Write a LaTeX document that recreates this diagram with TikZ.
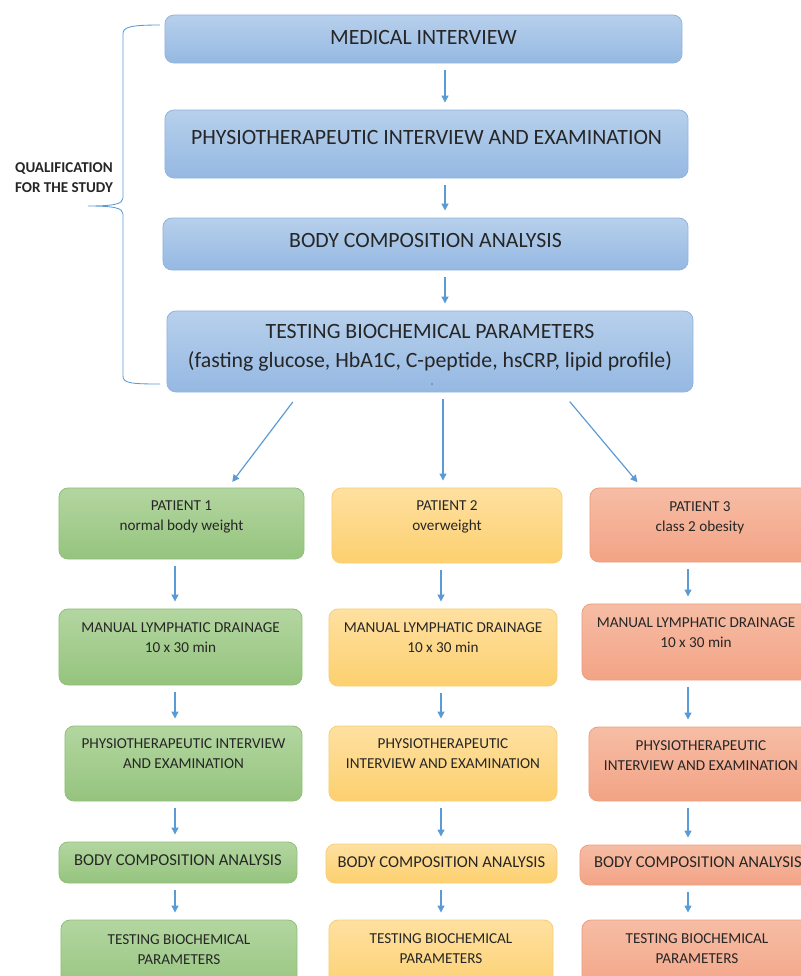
\documentclass[tikz,border=0pt]{standalone}
\usepackage{fontspec}
\setmainfont{Carlito}
\usetikzlibrary{arrows.meta,positioning}
\definecolor{txtc}{HTML}{262626}
\definecolor{arrc}{HTML}{5B9BD5}
\definecolor{bluetop}{HTML}{B7D0EC}
\definecolor{bluebot}{HTML}{95B8E2}
\definecolor{bluebd}{HTML}{93B4DE}
\definecolor{greentop}{HTML}{B3D6A0}
\definecolor{greenbot}{HTML}{95C47E}
\definecolor{greenbd}{HTML}{92BF7E}
\definecolor{yellowtop}{HTML}{FEE0A0}
\definecolor{yellowbot}{HTML}{FDD06F}
\definecolor{yellowbd}{HTML}{F8CF78}
\definecolor{redtop}{HTML}{F6BDA5}
\definecolor{redbot}{HTML}{F3A385}
\definecolor{redbd}{HTML}{EE9F80}
\begin{document}
\begin{tikzpicture}[x=0.025cm, y=-0.025cm,
  box/.style={draw, line width=0.6pt, rounded corners=6.5pt, inner sep=0pt},
  bluebox/.style={box, draw=bluebd, top color=bluetop, bottom color=bluebot},
  greenbox/.style={box, draw=greenbd, top color=greentop, bottom color=greenbot},
  yellowbox/.style={box, draw=yellowbd, top color=yellowtop, bottom color=yellowbot},
  redbox/.style={box, draw=redbd, top color=redtop, bottom color=redbot},
  bigtxt/.style={align=center, text=txtc, font=\fontsize{15.5}{20.8}\selectfont},
  smalltxt/.style={align=center, text=txtc, font=\fontsize{10.8}{14.2}\selectfont},
  bodytxt/.style={smalltxt, font=\fontsize{11.8}{14.2}\selectfont},
  flow/.style={-{Triangle[width=5pt,length=5pt]}, draw=arrc, line width=0.85pt, shorten <=4.5pt, shorten >=5pt}]
  \useasboundingbox (0,0) rectangle (801,976);
  \clip (0,0) rectangle (801,976);

  \node[bluebox, minimum width=12.925cm, minimum height=1.2cm, label={[bigtxt,yshift=1pt]center:MEDICAL INTERVIEW}] (b1) at (423.5,39) {};
  \node[bluebox, minimum width=13.075cm, minimum height=1.7cm, label={[bigtxt,yshift=4.3pt]center:PHYSIOTHERAPEUTIC INTERVIEW AND EXAMINATION}] (b2) at (426.5,144) {};
  \node[bluebox, minimum width=13.125cm, minimum height=1.3cm, label={[bigtxt,yshift=2.8pt]center:BODY COMPOSITION ANALYSIS}] (b3) at (425.5,244) {};
  \node[bluebox, minimum width=13.15cm, minimum height=2.025cm, label={[bigtxt,yshift=2.8pt]center:TESTING BIOCHEMICAL PARAMETERS\\(fasting glucose, HbA1C, C-peptide, hsCRP, lipid profile)}] (b4) at (430,351.5) {};
  \fill[txtc] (432,384) circle (0.7);

  \draw[arrc, line width=0.6pt] (160,25) .. controls (130,25) and (123,27) .. (123,34) -- (123,198) .. controls (123,204) and (114,206) .. (88,206) .. controls (114,206) and (123,208) .. (123,214) -- (123,376) .. controls (123,383) and (130,384) .. (160,384);
  \node[align=center, text=txtc, font=\fontsize{10.7}{14.2}\selectfont\bfseries] (qual) at (64,178) {QUALIFICATION\\FOR THE STUDY};

  \node[greenbox, minimum width=6.125cm, minimum height=1.775cm, label={[smalltxt,yshift=4.6pt]center:PATIENT 1\\normal body weight}] (g1) at (181.5,523.5) {};
  \node[greenbox, minimum width=6.075cm, minimum height=1.9cm, label={[smalltxt,yshift=6.4pt]center:MANUAL LYMPHATIC DRAINAGE\\10 x 30 min}] (g2) at (180.5,647) {};
  \node[greenbox, minimum width=5.925cm, minimum height=1.875cm, label={[smalltxt,yshift=6.7pt]center:PHYSIOTHERAPEUTIC INTERVIEW\\AND EXAMINATION}] (g3) at (183.5,763.5) {};
  \node[greenbox, minimum width=5.95cm, minimum height=1.025cm, label={[bodytxt,yshift=1.8pt]center:BODY COMPOSITION ANALYSIS}] (g4) at (178,862.5) {};
  \node[greenbox, minimum width=5.9cm, minimum height=1.9cm, label={[smalltxt,yshift=5.7pt]center:TESTING BIOCHEMICAL\\PARAMETERS}] (g5) at (179,958) {};

  \node[yellowbox, minimum width=5.75cm, minimum height=1.875cm, label={[smalltxt,yshift=6pt]center:PATIENT 2\\overweight}] (y1) at (447,525.5) {};
  \node[yellowbox, minimum width=5.7cm, minimum height=1.925cm, label={[smalltxt,yshift=6.7pt]center:MANUAL LYMPHATIC DRAINAGE\\10 x 30 min}] (y2) at (443,647.5) {};
  \node[yellowbox, minimum width=5.7cm, minimum height=1.875cm, label={[smalltxt,yshift=6.7pt]center:PHYSIOTHERAPEUTIC\\INTERVIEW AND EXAMINATION}] (y3) at (443,763.5) {};
  \node[yellowbox, minimum width=5.775cm, minimum height=0.975cm, label={[bodytxt,yshift=1pt]center:BODY COMPOSITION ANALYSIS}] (y4) at (441.5,863.5) {};
  \node[yellowbox, minimum width=5.6cm, minimum height=1.9cm, label={[smalltxt,yshift=6.7pt]center:TESTING BIOCHEMICAL\\PARAMETERS}] (y5) at (441,958) {};

  \node[redbox, minimum width=5.5cm, minimum height=1.85cm, label={[smalltxt,yshift=5.3pt]center:PATIENT 3\\class 2 obesity}] (r1) at (700,525) {};
  \node[redbox, minimum width=5.7cm, minimum height=1.9cm, label={[smalltxt,yshift=6.7pt]center:MANUAL LYMPHATIC DRAINAGE\\10 x 30 min}] (r2) at (696,642) {};
  \node[redbox, minimum width=5.6cm, minimum height=1.85cm, label={[smalltxt,yshift=5.7pt]center:PHYSIOTHERAPEUTIC\\INTERVIEW AND EXAMINATION}] (r3) at (701,764) {};
  \node[redbox, minimum width=5.9cm, minimum height=1cm, label={[bodytxt,yshift=2pt]center:BODY COMPOSITION ANALYSIS}] (r4) at (698,865) {};
  \node[redbox, minimum width=5.75cm, minimum height=1.9cm, label={[smalltxt,yshift=6.7pt]center:TESTING BIOCHEMICAL\\PARAMETERS}] (r5) at (697,958) {};

  \coordinate (ax) at (445,0);
  \coordinate (gx) at (175,0);
  \coordinate (yx) at (441,0);
  \coordinate (rx) at (688,0);

  \draw[flow] (b1.south -| ax) -- (b2.north -| ax);
  \draw[flow] (b2.south -| ax) -- (b3.north -| ax);
  \draw[flow] (b3.south -| ax) -- (b4.north -| ax);

  \draw[flow, shorten <=8.5pt] (b4.south -| 300,0) -- (g1.north -| 228,0);
  \draw[flow] (b4.south -| 443,0) -- (y1.north -| 443,0);
  \draw[flow, shorten <=8.5pt] (b4.south -| 562,0) -- (r1.north -| 642,0);

  \draw[flow] (g1.south -| gx) -- (g2.north -| gx);
  \draw[flow] (g2.south -| gx) -- (g3.north -| gx);
  \draw[flow] (g3.south -| gx) -- (g4.north -| gx);
  \draw[flow] (g4.south -| gx) -- (g5.north -| gx);

  \draw[flow] (y1.south -| yx) -- (y2.north -| yx);
  \draw[flow] (y2.south -| yx) -- (y3.north -| yx);
  \draw[flow] (y3.south -| yx) -- (y4.north -| yx);
  \draw[flow] (y4.south -| yx) -- (y5.north -| yx);

  \draw[flow] (r1.south -| rx) -- (r2.north -| rx);
  \draw[flow] (r2.south -| rx) -- (r3.north -| rx);
  \draw[flow] (r3.south -| rx) -- (r4.north -| rx);
  \draw[flow] (r4.south -| rx) -- (r5.north -| rx);
\end{tikzpicture}
\end{document}
